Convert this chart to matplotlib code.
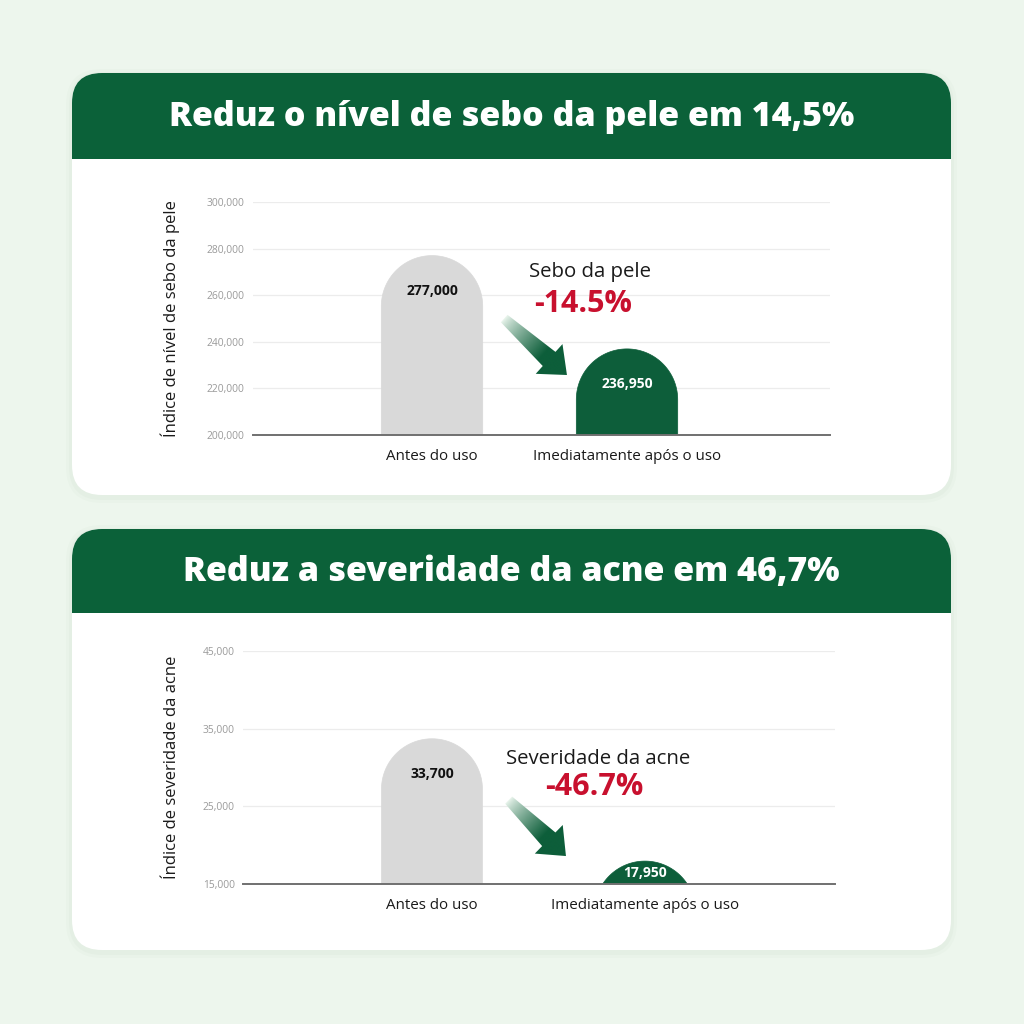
import numpy as np
import matplotlib
matplotlib.use("Agg")
import matplotlib.pyplot as plt
from matplotlib.patches import FancyBboxPatch, Rectangle, Polygon

# ---------------- data ----------------
categories = ["Antes do uso", "Imediatamente após o uso"]

sebo_title = "Reduz o nível de sebo da pele em 14,5%"
sebo_ylabel = "Índice de nível de sebo da pele"
sebo_values = [277000, 236950]
sebo_labels = ["277,000", "236,950"]
sebo_ticks = [200000, 220000, 240000, 260000, 280000, 300000]
sebo_tick_labels = ["200,000", "220,000", "240,000", "260,000", "280,000", "300,000"]
sebo_note = "Sebo da pele"
sebo_change = "-14.5%"

acne_title = "Reduz a severidade da acne em 46,7%"
acne_ylabel = "Índice de severidade da acne"
acne_values = [33700, 17950]
acne_labels = ["33,700", "17,950"]
acne_ticks = [15000, 25000, 35000, 45000]
acne_tick_labels = ["15,000", "25,000", "35,000", "45,000"]
acne_note = "Severidade da acne"
acne_change = "-46.7%"

# ---------------- style ----------------
BG = "#edf6ed"
GREEN = "#0b6139"
BAR_GREEN = "#0d5e3a"
GRAY_BAR = "#d9d9d9"
RED = "#c8102e"
TXT = "#1a1a1a"
TICK = "#9a9a9a"
BODY_FONT = ["Open Sans", "DejaVu Sans"]
TITLE_FONT = ["Open Sans", "DejaVu Sans"]

W = H = 1024
fig = plt.figure(figsize=(10.24, 10.24), dpi=100)
fig.patch.set_facecolor(BG)

bg = fig.add_axes([0, 0, 1, 1], zorder=0)
bg.set_xlim(0, W)
bg.set_ylim(H, 0)
bg.axis("off")

over = fig.add_axes([0, 0, 1, 1], zorder=10)
over.set_xlim(0, W)
over.set_ylim(H, 0)
over.axis("off")
over.patch.set_alpha(0)


def card(y0, y1, hdr_bottom, title):
    x0, x1 = 72, 951
    r = 30
    for k, a in [(6, 0.025), (3, 0.035)]:
        bg.add_patch(FancyBboxPatch((x0 - k, y0 - k + 2), x1 - x0 + 2 * k, y1 - y0 + 2 * k,
                                    boxstyle=f"round,pad=0,rounding_size={r + k}",
                                    fc="#6a8f6a", ec="none", alpha=a))
    bg.add_patch(FancyBboxPatch((x0, y0), x1 - x0, y1 - y0,
                                boxstyle=f"round,pad=0,rounding_size={r}",
                                fc="white", ec="none"))
    bg.add_patch(FancyBboxPatch((x0, y0), x1 - x0, hdr_bottom - y0 + r + 5,
                                boxstyle=f"round,pad=0,rounding_size={r}",
                                fc=GREEN, ec="none"))
    bg.add_patch(Rectangle((x0, hdr_bottom), x1 - x0, r + 8, fc="white", ec="none"))
    bg.text((x0 + x1) / 2, (y0 + hdr_bottom) / 2 + 1, title, color="white",
            fontsize=24.5, fontweight=800, family=TITLE_FONT,
            ha="center", va="center")


card(73, 495, 159, sebo_title)
card(529, 950, 613, acne_title)


def px_to_fig(left, right, top, bottom):
    return [left / W, 1 - bottom / H, (right - left) / W, (bottom - top) / H]


def gradient_arrow(ax, tail, tip):
    disp = ax.transData.transform([tail, tip])
    T, P = over.transData.inverted().transform(disp)
    d = P - T
    L = np.hypot(*d)
    u = d / L
    n = np.array([-u[1], u[0]])
    hl, hw, sw0, sw1 = 24.0, 20.0, 5.0, 9.5
    B = P - u * hl
    pts = [T + n * sw0, B + n * sw1, B + n * hw, P, B - n * hw, B - n * sw1, T - n * sw0]
    poly = Polygon(pts, closed=True, fc="none", ec="none")
    over.add_patch(poly)
    xs = np.array([p[0] for p in pts])
    ys = np.array([p[1] for p in pts])
    xa, xb, ya, yb = xs.min() - 2, xs.max() + 2, ys.min() - 2, ys.max() + 2
    nx, ny = 120, 120
    gx, gy = np.meshgrid(np.linspace(xa, xb, nx), np.linspace(ya, yb, ny))
    t = ((gx - T[0]) * u[0] + (gy - T[1]) * u[1]) / L
    t = np.clip(t, 0, 1)
    c0 = np.array([0.93, 0.97, 0.94])
    c1 = np.array(matplotlib.colors.to_rgb(BAR_GREEN))
    s = np.clip(t * 1.6, 0, 1) ** 0.8
    img = c0[None, None, :] * (1 - s[..., None]) + c1[None, None, :] * s[..., None]
    im = over.imshow(img, extent=(xa, xb, yb, ya), origin="upper",
                     interpolation="bilinear", aspect="auto", zorder=5)
    im.set_clip_path(poly)
    over.set_xlim(0, W)
    over.set_ylim(H, 0)


def rounded_bar(ax, xc, v, bw, ry, base, color):
    """Bar from base to v with a semicircular (in pixels) top."""
    cy = v - ry
    th = np.linspace(0, np.pi, 80)
    ax_pts = xc + (bw / 2) * np.cos(th)
    ay_pts = cy + ry * np.sin(th)
    xs = np.concatenate([[xc + bw / 2], ax_pts, [xc - bw / 2]])
    ys = np.concatenate([[min(base, cy)], ay_pts, [min(base, cy)]])
    if cy > base:
        ys[0] = base
        ys[-1] = base
    p = Polygon(np.column_stack([xs, ys]), closed=True, fc=color, ec=color,
                lw=0.5, zorder=3)
    ax.add_patch(p)


def chart(rect_px, xlim, ylim, values, labels, ticks, tick_labels, ylabel,
          bar_w, note, change, note_xy, change_xy, arrow_tail, arrow_tip,
          ylabel_x_px, tick_pad):
    left, right, top, bottom = rect_px
    ax = fig.add_axes(px_to_fig(left, right, top, bottom), zorder=2)
    ax.patch.set_alpha(0)
    ax.set_xlim(*xlim)
    ax.set_ylim(*ylim)
    x = np.arange(len(values))
    px_per_x = (right - left) / (xlim[1] - xlim[0])
    px_per_y = (bottom - top) / (ylim[1] - ylim[0])
    r_px = bar_w / 2 * px_per_x
    ry = r_px / px_per_y
    colors = [GRAY_BAR, BAR_GREEN]
    for xi, v, c in zip(x, values, colors):
        rounded_bar(ax, xi, v, bar_w, ry, ylim[0], c)
    span = ylim[1] - ylim[0]
    for xi, v, lab, c in zip(x, values, labels, ["#111111", "white"]):
        ly = v - 0.152 * span
        if ly < ylim[0] + 0.05 * span:
            ly = (v + ylim[0]) / 2
        ax.text(xi, ly, lab, ha="center", va="center", fontsize=10,
                fontweight="bold", color=c, family=BODY_FONT, zorder=4)
    ax.set_yticks(ticks)
    ax.set_yticklabels(tick_labels, family=BODY_FONT, fontsize=7.4, color=TICK)
    ax.set_xticks(x)
    ax.set_xticklabels(categories, family=BODY_FONT, fontsize=10.9, color=TXT)
    ax.tick_params(axis="both", length=0)
    ax.tick_params(axis="y", pad=tick_pad)
    ax.tick_params(axis="x", pad=10)
    for sp in ["top", "right", "left"]:
        ax.spines[sp].set_visible(False)
    ax.spines["bottom"].set_color("#707070")
    ax.spines["bottom"].set_linewidth(1.4)
    ax.spines["bottom"].set_zorder(5)
    ax.yaxis.grid(True, color="#ececec", linewidth=0.9, zorder=0)
    ax.set_axisbelow(True)
    ax.set_ylabel(ylabel, family=BODY_FONT, fontsize=12, color=TXT)
    ax.yaxis.set_label_coords(-(left - ylabel_x_px) / (right - left), 0.5)
    ax.text(*note_xy, note, ha="center", va="center", fontsize=14.7,
            color=TXT, family=BODY_FONT, zorder=6)
    ax.text(*change_xy, change, ha="center", va="center", fontsize=22,
            fontweight="bold", color=RED, family=BODY_FONT, zorder=6)
    gradient_arrow(ax, arrow_tail, arrow_tip)
    return ax


chart((253, 830, 202, 435), (-0.918, 2.041), (200000, 300000),
      sebo_values, sebo_labels, sebo_ticks, sebo_tick_labels, sebo_ylabel,
      0.52, sebo_note, sebo_change, (0.81, 270000), (0.776, 256200),
      (0.37, 250000), (0.692, 225750), 180, 6)

chart((243, 835, 651, 884), (-0.887, 1.892), (15000, 45000),
      acne_values, acne_labels, acne_ticks, acne_tick_labels, acne_ylabel,
      0.474, acne_note, acne_change, (0.779, 31100), (0.761, 27500),
      (0.36, 25800), (0.629, 18600), 180, 6)

fig.savefig("out.png", dpi=100, facecolor=BG)
